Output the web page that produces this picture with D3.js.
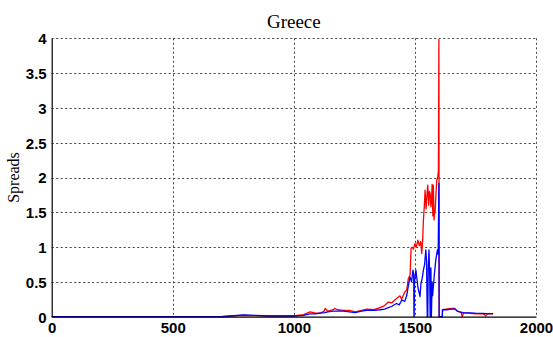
<!DOCTYPE html>
<html><head><meta charset="utf-8">
<script src="https://cdn.jsdelivr.net/npm/d3@7"></script>
<style>
html,body{margin:0;padding:0;background:#fff;}
svg{display:block;}
</style></head>
<body><svg id="chart" width="553" height="337"></svg>
<script>
const title = "Greece";
const yLabel = "Spreads";
const xTicks = [0, 500, 1000, 1500, 2000];
const yTicks = [0, 0.5, 1, 1.5, 2, 2.5, 3, 3.5, 4];

const redDay = [0,700,740,790,840,900,1000,1040,1067,1090,1108,1125,1130,1140,1163,1168,1180,1204,1230,1253,1280,1301,1330,1356,1375,1390,1405,1424,1438,1445,1459,1466,1473,1480,1484,1488,1494,1500,1506,1512,1518,1524,1528,1532,1535,1539,1542,1546,1550,1553,1557,1560,1563,1566,1569,1571,1574,1576,1579,1581,1583,1586,1590,1594,1597,1599,1600,1613,1614,1630,1650,1665,1675,1685,1692,1695,1700,1720,1750,1780,1788,1792,1800,1823];
const redSpread = [0,0,0.01,0.02,0.015,0.01,0.01,0.03,0.07,0.05,0.05,0.08,0.12,0.08,0.1,0.12,0.1,0.09,0.09,0.07,0.09,0.11,0.1,0.13,0.16,0.21,0.2,0.26,0.3,0.25,0.36,0.38,0.55,0.6,0.98,1.0,0.97,1.05,1.0,1.1,1.02,1.08,0.91,1.1,1.39,1.6,1.82,1.55,1.75,1.89,1.6,1.8,1.77,1.58,1.7,1.9,1.45,1.89,1.39,1.5,1.49,1.7,1.96,2.0,2.1,3.98,0,0,0.1,0.11,0.12,0.12,0.08,0.07,0.05,0.0,0.05,0.05,0.04,0.04,0.03,0.01,0.04,0.04];

const blueDay = [0,700,740,790,840,900,1000,1040,1067,1090,1108,1129,1140,1163,1180,1204,1230,1253,1280,1301,1330,1356,1375,1390,1405,1424,1435,1446,1458,1466,1473,1480,1486,1492,1495,1496,1497,1498,1504,1508,1512,1517,1521,1525,1530,1535,1540,1545,1548,1551,1553,1555,1558,1561,1563,1566,1568,1571,1573,1576,1580,1586,1590,1593,1596,1599,1600,1613,1614,1630,1650,1665,1675,1685,1700,1750,1800,1823];
const blueSpread = [0,0,0.01,0.025,0.02,0.01,0.01,0.02,0.04,0.04,0.05,0.06,0.07,0.08,0.08,0.08,0.07,0.06,0.08,0.09,0.09,0.1,0.11,0.13,0.15,0.19,0.17,0.24,0.22,0.3,0.45,0.57,0.5,0.67,0.6,0,0,0.5,0.67,0.55,0.43,0.35,0.29,0.48,0.55,0.67,0.75,0.96,0.8,0,0,0.7,0.96,0.6,0,0.7,0,0.5,0.3,0.43,0.6,0.81,0.9,0.96,0.9,1.92,0,0,0.1,0.1,0.11,0.11,0.08,0.07,0.06,0.05,0.045,0.045];

const svg = d3.select("#chart");
const mLeft = 51.7, mRight = 536, mTop = 38.3, mBottom = 316.7;
const x = d3.scaleLinear().domain([0, 2000]).range([mLeft, mRight]);
const y = d3.scaleLinear().domain([0, 4]).range([mBottom, mTop]);

// grid
const grid = svg.append("g").attr("stroke", "#222").attr("stroke-width", 1).attr("stroke-dasharray", "2,2.5").attr("opacity", 0.85);
grid.selectAll("line.gx").data(xTicks.filter(d => d > 0)).join("line")
  .attr("x1", d => Math.round(x(d)) + 0.5).attr("x2", d => Math.round(x(d)) + 0.5)
  .attr("y1", mTop).attr("y2", mBottom);
grid.selectAll("line.gy").data(yTicks.filter(d => d > 0)).join("line")
  .attr("x1", mLeft).attr("x2", mRight)
  .attr("y1", d => Math.round(y(d)) + 0.5).attr("y2", d => Math.round(y(d)) + 0.5);

// series
const line = d3.line().x(d => x(d[0])).y(d => y(d[1]));
const redData = redDay.map((d, i) => [d, redSpread[i]]);
const blueData = blueDay.map((d, i) => [d, blueSpread[i]]);
svg.append("path").datum(redData).attr("d", line).attr("fill", "none").attr("stroke", "#ff0000").attr("stroke-width", 1.3).attr("stroke-linejoin", "round");
svg.append("path").datum(blueData).attr("d", line).attr("fill", "none").attr("stroke", "#0000ff").attr("stroke-width", 1.3).attr("stroke-linejoin", "round");

// axes
const xAxis = d3.axisBottom(x).tickValues(xTicks).tickSize(0).tickPadding(6).tickFormat(d3.format("d"));
const yAxis = d3.axisLeft(y).tickValues(yTicks).tickSize(0).tickPadding(5).tickFormat(d => String(d));
const gx = svg.append("g").attr("transform", `translate(0,${mBottom})`).call(xAxis);
const gy = svg.append("g").attr("transform", `translate(${mLeft},0)`).call(yAxis);
[gx, gy].forEach(g => {
  g.select(".domain").attr("stroke", "#000").attr("stroke-width", 1.2);
  g.selectAll("text").attr("font-family", "Liberation Sans, Arial, sans-serif").attr("font-weight", "bold").attr("font-size", 15).attr("fill", "#000");
});
gy.selectAll("text").attr("dy", "0.36em");

// title and label
svg.append("text").attr("x", (mLeft + mRight) / 2).attr("y", 28).attr("text-anchor", "middle")
  .attr("font-family", "Liberation Serif, Times New Roman, serif").attr("font-size", 19).text(title);
svg.append("text").attr("transform", `translate(18.5,${(mTop + mBottom) / 2}) rotate(-90)`).attr("text-anchor", "middle")
  .attr("font-family", "Liberation Serif, Times New Roman, serif").attr("font-size", 16).text(yLabel);
</script>
</body></html>
